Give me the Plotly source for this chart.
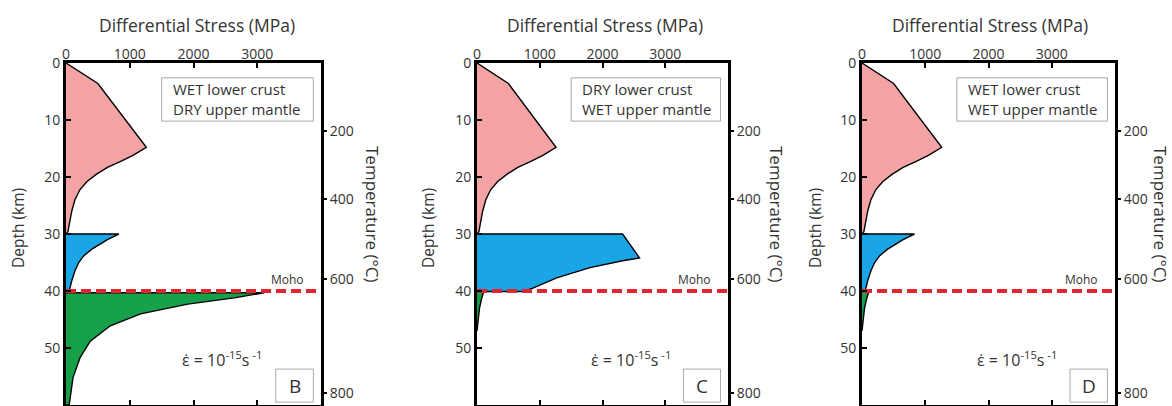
import plotly.graph_objects as go

W, H = 1172, 406

# ---------------- data ----------------
stress_ticks = [0, 1000, 2000, 3000]
depth_ticks = [0, 10, 20, 30, 40, 50]
temp_labels = ["200", "400", "600", "800"]
temp_depths = [11.9, 23.9, 37.9, 57.9]

# upper crust (same in all panels)
upper_crust_stress = [0, 500, 1260, 1050, 850, 650, 480, 330, 220, 140, 90, 55, 30, 0]
upper_crust_depth = [0, 3.6, 14.8, 16.2, 17.3, 18.3, 19.5, 20.8, 22.2, 24.0, 26.0, 28.0, 29.6, 30]

# wet lower crust
wet_lc_stress = [0, 830, 650, 520, 400, 280, 200, 140, 90, 50, 0]
wet_lc_depth = [30, 30, 31.0, 31.9, 32.7, 33.8, 35.0, 36.5, 38.2, 40, 40]

# dry lower crust
dry_lc_stress = [0, 2320, 2590, 2320, 1800, 1270, 890, 730, 0]
dry_lc_depth = [30, 30, 34.2, 34.7, 35.9, 37.7, 39.5, 40.1, 40.1]

# dry upper mantle
dry_um_stress = [0, 3110, 2640, 1910, 1170, 695, 380, 220, 110, 63, 50, 0]
dry_um_depth = [40.3, 40.3, 41.2, 42.3, 44.0, 46.1, 48.8, 51.7, 55.2, 59.3, 60, 60]

# wet upper mantle
wet_um_stress = [0, 110, 70, 40, 20, 5, 0]
wet_um_depth = [40, 40, 41.5, 43, 45, 47, 47]

moho_depth = 40
moho_x = [0, 4000]

panel_letters = ["B", "C", "D"]
lower_crust_types = ["WET", "DRY", "WET"]
mantle_types = ["DRY", "WET", "WET"]

# ---------------- layout geometry (pixels) ----------------
panel_px = [(66, 321), (477, 728), (862, 1115)]
top_px, bot_px = 63, 405
title_x_px = [197, 605, 990]
depth_title_x_px = [18, 428, 815]
temp_title_x_px = [373, 777, 1161]

PINK = "#F4A3A5"
BLUE = "#1AA6E6"
GREEN = "#16A04A"
RED = "#E3262E"
TXT = "#333333"
FONT = "Open Sans"

fig = go.Figure()
layout = dict(
    width=W, height=H, margin=dict(l=0, r=0, t=0, b=0, pad=0, autoexpand=False),
    plot_bgcolor="white", paper_bgcolor="white", showlegend=False,
    font=dict(family=FONT, color=TXT, size=14),
)
annotations = []
shapes = []

lc_data = {"WET": (wet_lc_stress, wet_lc_depth), "DRY": (dry_lc_stress, dry_lc_depth)}
um_data = {"WET": (wet_um_stress, wet_um_depth), "DRY": (dry_um_stress, dry_um_depth)}

def px2x(p):
    return p / W

def px2y(p):
    return 1 - p / H

for i in range(3):
    n = i + 1
    xa = "x" if n == 1 else f"x{n}"
    ya = "y" if n == 1 else f"y{n}"
    ta = f"y{n + 3}"
    xkey = "xaxis" if n == 1 else f"xaxis{n}"
    ykey = "yaxis" if n == 1 else f"yaxis{n}"
    tkey = f"yaxis{n + 3}"
    x0, x1 = panel_px[i]

    layout[xkey] = dict(
        domain=[px2x(x0), px2x(x1)], anchor=ya, side="top", range=[0, 4000],
        tickvals=stress_ticks, ticks="inside", ticklen=5, tickwidth=1.5, tickcolor="black",
        showline=True, linewidth=3, linecolor="black", mirror="ticks", automargin=False,
        showgrid=False, zeroline=False, tickfont=dict(size=14, color=TXT),
        ticklabelstandoff=-5,
    )
    layout[ykey] = dict(
        domain=[px2y(bot_px), px2y(top_px)], anchor=xa, range=[60, 0],
        tickvals=depth_ticks, ticks="inside", ticklen=5, tickwidth=1.5, tickcolor="black",
        showline=True, linewidth=3, linecolor="black", mirror=True, automargin=False,
        showgrid=False, zeroline=False, tickfont=dict(size=14, color=TXT),
    )
    layout[tkey] = dict(
        overlaying=ya, anchor=xa, side="right", range=[60, 0], automargin=False,
        tickvals=temp_depths, ticktext=temp_labels, ticks="outside", ticklen=5,
        tickwidth=1.5, tickcolor="black", showline=False, showgrid=False, zeroline=False,
        tickfont=dict(size=14, color=TXT),
    )

    def add_fill(xs, ys, color):
        fig.add_trace(go.Scatter(
            x=xs, y=ys, xaxis=xa, yaxis=ya, mode="lines", fill="toself",
            fillcolor=color, line=dict(color="black", width=1.4), hoverinfo="skip",
        ))

    add_fill(upper_crust_stress, upper_crust_depth, PINK)
    s, d = lc_data[lower_crust_types[i]]
    add_fill(s, d, BLUE)
    s, d = um_data[mantle_types[i]]
    add_fill(s, d, GREEN)

    fig.add_trace(go.Scatter(
        x=moho_x, y=[moho_depth, moho_depth], xaxis=xa, yaxis=ya, mode="lines",
        line=dict(color=RED, width=4, dash="10px,5px"), hoverinfo="skip",
    ))
    # invisible trace to activate temperature axis
    fig.add_trace(go.Scatter(x=[None], y=[None], xaxis=xa, yaxis=ta, hoverinfo="skip"))

    # titles
    annotations.append(dict(text="Differential Stress (MPa)", xref="paper", yref="paper",
                            x=px2x(title_x_px[i]), y=px2y(25), showarrow=False,
                            xanchor="center", yanchor="middle", font=dict(size=17.5, color=TXT)))
    annotations.append(dict(text="Depth (km)", xref="paper", yref="paper",
                            x=px2x(depth_title_x_px[i]), y=px2y(228), showarrow=False,
                            textangle=-90, xanchor="center", yanchor="middle",
                            font=dict(size=15.5, color=TXT)))
    annotations.append(dict(text="Temperature (°C)", xref="paper", yref="paper",
                            x=px2x(temp_title_x_px[i]), y=px2y(214), showarrow=False,
                            textangle=90, xanchor="center", yanchor="middle",
                            font=dict(size=17, color=TXT)))

    # rheology box
    shapes.append(dict(type="rect", xref=xa, yref=ya, x0=1500, x1=3880, y0=2.6, y1=10.2,
                       line=dict(color="#AAAAAA", width=1), fillcolor="white", layer="above"))
    annotations.append(dict(text=f"{lower_crust_types[i]} lower crust<br>{mantle_types[i]} upper mantle",
                            xref=xa, yref=ya, x=1640, y=6.4, showarrow=False, align="left",
                            xanchor="left", yanchor="middle", font=dict(size=15, color=TXT)))
    # Moho label
    annotations.append(dict(text="Moho", xref=xa, yref=ya, x=3760, y=37.9, showarrow=False,
                            xanchor="right", yanchor="middle", font=dict(size=12, color=TXT)))
    # strain rate
    annotations.append(dict(text="ε̇ = 10<sup>-15</sup>s<sup> -1</sup>", xref=xa, yref=ya,
                            x=2450, y=51.9, showarrow=False, xanchor="center", yanchor="middle",
                            font=dict(size=16, color=TXT)))
    # panel letter box
    shapes.append(dict(type="rect", xref=xa, yref=ya, x0=3290, x1=3880, y0=53.7, y1=59.5,
                       line=dict(color="#AAAAAA", width=1), fillcolor="white", layer="above"))
    annotations.append(dict(text=panel_letters[i], xref=xa, yref=ya, x=3585, y=56.6,
                            showarrow=False, xanchor="center", yanchor="middle",
                            font=dict(size=19, color=TXT)))

layout["annotations"] = annotations
layout["shapes"] = shapes
fig.update_layout(**layout)

fig.write_html("out.html", config={"displayModeBar": False},
               post_script="document.body.style.margin='0';")
